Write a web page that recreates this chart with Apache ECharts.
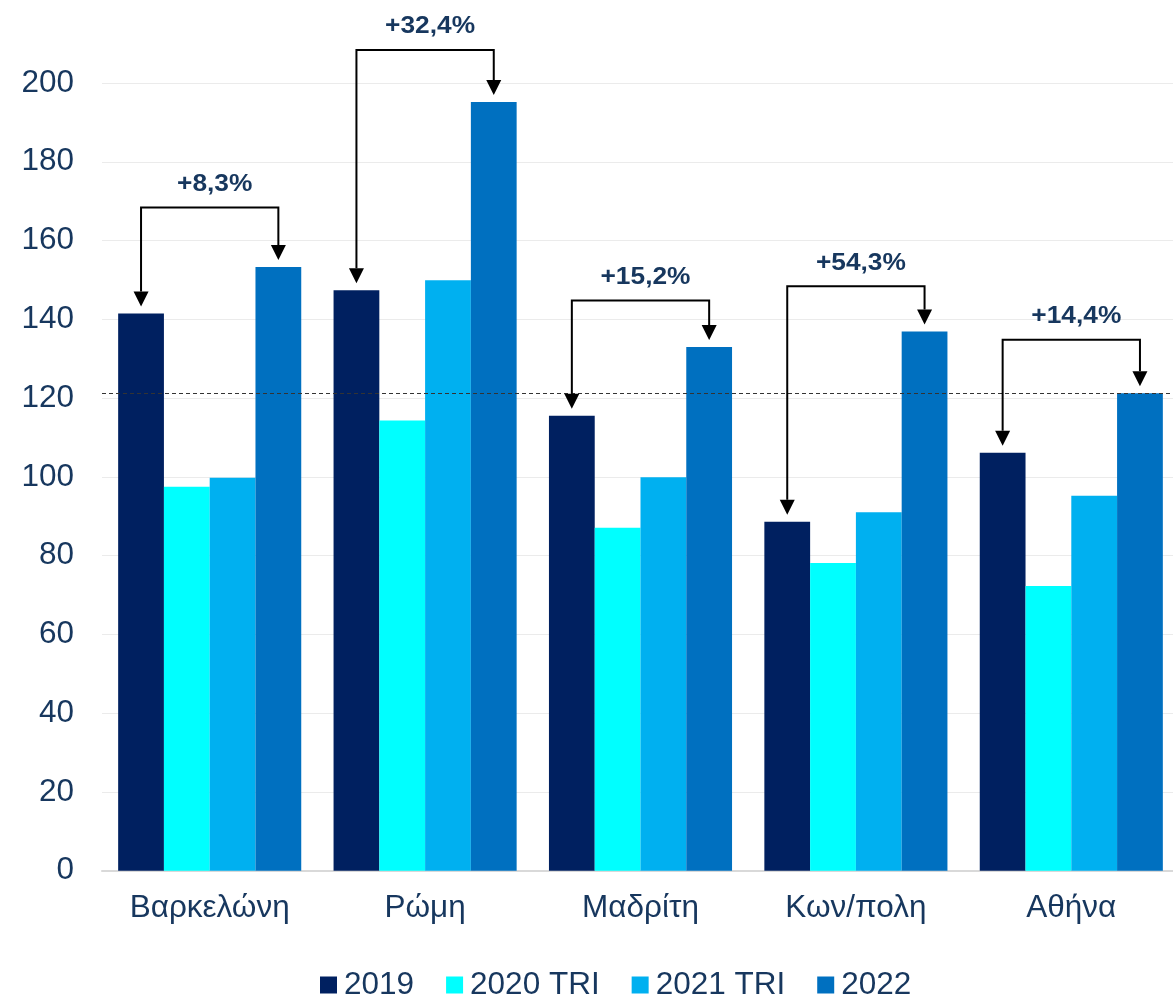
<!DOCTYPE html>
<html>
<head>
<meta charset="utf-8">
<script src="https://cdn.jsdelivr.net/npm/echarts@6/dist/echarts.min.js"></script>
<style>
html,body{margin:0;padding:0;background:#fff;}
#chart{width:1173px;height:996px;}
</style>
</head>
<body>
<div id="chart"></div>
<script>
// ---- data ----
const cities = ['Βαρκελώνη', 'Ρώμη', 'Μαδρίτη', 'Κων/πολη', 'Αθήνα'];
const seriesNames = ['2019', '2020 TRI', '2021 TRI', '2022'];
const v2019 = [141.5, 147.4, 115.5, 88.6, 106.1];
const v2020 = [97.5, 114.3, 87.1, 78.1, 72.3];
const v2021 = [99.8, 149.9, 99.9, 91.0, 95.2];
const v2022 = [153.3, 195.2, 133.0, 136.9, 121.2];
const changeLabels = ['+8,3%', '+32,4%', '+15,2%', '+54,3%', '+14,4%'];
const bracketLevel = [168.4, 208.4, 144.8, 148.4, 134.8];
const referenceLevel = 121.3;
const yTicks = [0, 20, 40, 60, 80, 100, 120, 140, 160, 180, 200];

// ---- styles ----
const colors = ['#002060', '#00FFFF', '#00B0F0', '#0070C0'];
const textColor = '#17375E';
const fontFamily = '"Liberation Sans", Arial, sans-serif';
const labelSize = 31.5;
const catGap = 0.15;

const chart = echarts.init(document.getElementById('chart'), null, {renderer: 'canvas'});

const valueSets = [v2019, v2020, v2021, v2022];
const barSeries = seriesNames.map((name, k) => ({
  name: name,
  type: 'bar',
  data: valueSets[k],
  barGap: '0%',
  barCategoryGap: (catGap * 100) + '%',
  itemStyle: {color: colors[k]},
  emphasis: {disabled: true},
  z: 2
}));

barSeries[0].markLine = {
  silent: true,
  symbol: 'none',
  label: {show: false},
  lineStyle: {color: '#333333', width: 1, type: [4, 3]},
  data: [{yAxis: referenceLevel}],
  z: 5
};

const bracketData = cities.map((c, i) => [i, bracketLevel[i], v2019[i], v2022[i]]);

const bracketSeries = {
  name: 'brackets',
  type: 'custom',
  data: bracketData,
  encode: {x: 0, y: 1},
  clip: false,
  silent: true,
  z: 10,
  renderItem: function (params, api) {
    const i = api.value(0);
    const c = api.coord([i, api.value(1)]);
    const band = api.size([1, 0])[0];
    const bw = band * (1 - catGap) / 4;
    const xl = c[0] - 1.5 * bw;
    const xr = c[0] + 1.5 * bw;
    const yb = c[1];
    const gap = 7;
    const yl = api.coord([i, api.value(2)])[1] - gap;
    const yr = api.coord([i, api.value(3)])[1] - gap;
    const ah = 15, aw = 7.5;
    return {
      type: 'group',
      children: [
        {type: 'polyline', shape: {points: [[xl, yl - ah], [xl, yb], [xr, yb], [xr, yr - ah]]},
          style: {stroke: '#000', lineWidth: 2, fill: null}},
        {type: 'polygon', shape: {points: [[xl - aw, yl - ah], [xl + aw, yl - ah], [xl, yl]]},
          style: {fill: '#000'}},
        {type: 'polygon', shape: {points: [[xr - aw, yr - ah], [xr + aw, yr - ah], [xr, yr]]},
          style: {fill: '#000'}},
        {type: 'text', x: c[0] + 5, y: yb - 23, scaleX: 1.12,
          style: {text: changeLabels[params.dataIndex], x: 0, y: 0, align: 'center', verticalAlign: 'middle',
            fill: textColor, font: 'bold 23.5px ' + fontFamily}}
      ]
    };
  }
};

const option = {
  animation: false,
  backgroundColor: '#ffffff',
  color: colors,
  grid: {left: 102, width: 1077, top: 83, bottom: 125.3, containLabel: false, outerBoundsMode: 'none'},
  legend: {
    data: seriesNames,
    left: 315,
    top: 964,
    itemWidth: 17,
    itemHeight: 17,
    itemGap: 32,
    icon: 'rect',
    textStyle: {color: textColor, fontSize: labelSize, fontFamily: fontFamily, padding: [0, 0, 0, 2]}
  },
  xAxis: {
    type: 'category',
    data: cities,
    axisLine: {lineStyle: {color: '#D9D9D9', width: 2}},
    axisTick: {show: false},
    axisLabel: {color: textColor, fontSize: labelSize, fontFamily: fontFamily, margin: 22},
    splitLine: {show: false}
  },
  yAxis: {
    type: 'value',
    min: yTicks[0],
    max: yTicks[yTicks.length - 1],
    interval: yTicks[1] - yTicks[0],
    axisLine: {show: false},
    axisTick: {show: false},
    axisLabel: {color: textColor, fontSize: labelSize, fontFamily: fontFamily, margin: 28},
    splitLine: {lineStyle: {color: '#EBEBEB', width: 1}}
  },
  series: barSeries.concat([bracketSeries])
};

chart.setOption(option);
</script>
</body>
</html>
